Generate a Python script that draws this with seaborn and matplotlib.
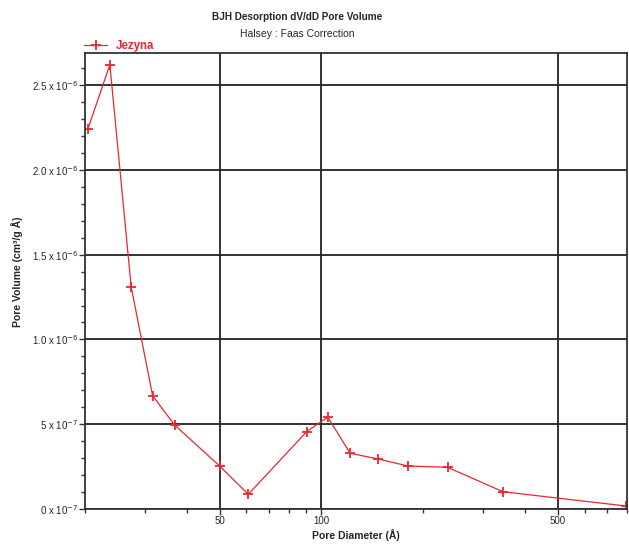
import matplotlib
matplotlib.use("Agg")
import matplotlib.pyplot as plt
import matplotlib.ticker as mticker
import seaborn as sns
import pandas as pd

# Data
pore_diameter = [20.4, 23.7, 27.4, 31.7, 36.8, 50.0, 60.8, 90.5, 104.4, 121.5,
                 146.5, 179.7, 235.8, 344.0, 792.0]
pore_volume = [2.24e-6, 2.62e-6, 1.31e-6, 0.668e-6, 0.496e-6, 0.254e-6, 0.087e-6,
               0.457e-6, 0.542e-6, 0.329e-6, 0.296e-6, 0.254e-6, 0.246e-6,
               0.102e-6, 0.018e-6]
series_name = "Jezyna"
x_ticks = [50, 100, 500]
x_tick_labels = ["50", "100", "500"]
y_ticks = [0, 5e-7, 1.0e-6, 1.5e-6, 2.0e-6, 2.5e-6]
y_tick_labels = [r"0 x 10$^{-7}$", r"5 x 10$^{-7}$", r"1.0 x 10$^{-6}$",
                 r"1.5 x 10$^{-6}$", r"2.0 x 10$^{-6}$", r"2.5 x 10$^{-6}$"]

df = pd.DataFrame({"d": pore_diameter, "v": pore_volume, "s": series_name})

sns.set_style("white")
plt.rcParams["font.family"] = ["Liberation Sans", "DejaVu Sans"]

fig = plt.figure(figsize=(6.29, 5.45), dpi=100)
ax = fig.add_axes([0.135, 0.066, 0.862, 0.837])

red = "#ec2530"
sns.lineplot(data=df, x="d", y="v", hue="s", palette=[red], marker="+",
             markersize=7.5, markeredgewidth=1.3, markeredgecolor=red,
             markerfacecolor=red, linewidth=0.9, sort=False,
             ax=ax, legend=False)

ax.set_xscale("log")
ax.set_xlim(20, 800)
ax.set_ylim(0, 2.69e-6)

ax.xaxis.set_major_locator(mticker.FixedLocator(x_ticks))
ax.xaxis.set_major_formatter(mticker.FixedFormatter(x_tick_labels))
ax.xaxis.set_minor_locator(mticker.LogLocator(base=10, subs=range(1, 10)))
ax.xaxis.set_minor_formatter(mticker.NullFormatter())
ax.set_yticks(y_ticks)
ax.set_yticklabels(y_tick_labels)
ax.yaxis.set_minor_locator(mticker.MultipleLocator(1e-7))

ax.grid(True, which="major", color="#222222", linewidth=1.3)
ax.set_axisbelow(True)
for sp in ax.spines.values():
    sp.set_color("#333333")
    sp.set_linewidth(1.3)

ax.tick_params(axis="both", which="major", direction="out", length=4,
               width=1.0, color="#333333", labelsize=7, pad=1)
ax.tick_params(axis="both", which="minor", direction="out", length=3,
               width=1.0, color="#333333")
ax.tick_params(axis="both", which="both", bottom=True, left=True)

ax.set_xlabel("Pore Diameter (Å)", fontsize=7.5, fontweight="bold", labelpad=2)
ax.set_ylabel("Pore Volume (cm³/g Å)", fontsize=7.5, fontweight="bold")
ax.yaxis.set_label_coords(-0.115, 0.52)

fig.text(0.473, 0.968, "BJH Desorption dV/dD Pore Volume", ha="center",
         va="center", fontsize=7.2, fontweight="bold")
fig.text(0.473, 0.937, "Halsey : Faas Correction", ha="center", va="center",
         fontsize=7.5)

# legend
leg_line, = ax.plot([], [], color=red, marker="+", markersize=7.5,
                    markeredgewidth=1.3, linewidth=0.9)
leg = fig.legend([leg_line], [series_name], loc="center left",
                 bbox_to_anchor=(0.125, 0.916), frameon=False, fontsize=8.3,
                 handlelength=2.0, handletextpad=0.7, borderpad=0)
for t in leg.get_texts():
    t.set_color(red)
    t.set_fontweight("bold")

fig.savefig("out.png", dpi=100)
